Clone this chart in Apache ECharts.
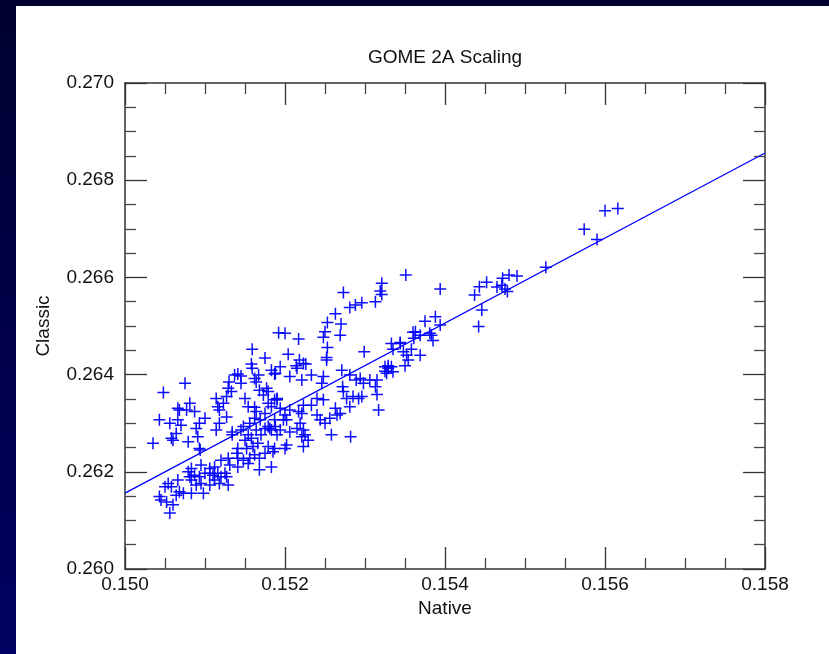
<!DOCTYPE html>
<html>
<head>
<meta charset="utf-8">
<script src="https://cdn.jsdelivr.net/npm/echarts@6/dist/echarts.min.js"></script>
<style>
  html, body { margin: 0; padding: 0; width: 829px; height: 654px; overflow: hidden;
    background: linear-gradient(to bottom, #00002e 0%, #00004a 50%, #000062 100%); }
  #chart { position: absolute; left: 16px; top: 6px; width: 813px; height: 648px; background: #ffffff; }
</style>
</head>
<body>
<div id="chart"></div>
<script>
// Scatter values: Native (x) and Classic (y)
const nativeX = [
  0.15616,0.15600,0.15574,0.15590,0.15526,0.15490,0.15480,0.15472,0.15471,0.15465,
  0.15475,0.15478,0.15452,0.15443,0.15437,0.15446,0.15442,0.15394,0.15375,0.15388,
  0.15394,0.15381,0.15369,0.15360,0.15383,0.15385,0.15344,0.15351,0.15321,0.15319,
  0.15321,0.15313,0.15273,0.15296,0.15288,0.15281,0.15263,0.15253,0.15270,0.15269,
  0.15250,0.15248,0.15253,0.15252,0.15252,0.15299,0.15217,0.15200,0.15192,0.15204,
  0.15218,0.15223,0.15226,0.15214,0.15194,0.15363,0.15361,0.15333,0.15344,0.15335,
  0.15348,0.15358,0.15352,0.15354,0.15369,0.15350,0.15329,0.15325,0.15329,0.15325,
  0.15294,0.15289,0.15298,0.15306,0.15315,0.15313,0.15281,0.15271,0.15272,0.15273,
  0.15277,0.15285,0.15292,0.15296,0.15281,0.15315,0.15317,0.15248,0.15246,0.15233,
  0.15221,0.15206,0.15188,0.15215,0.15248,0.15240,0.15233,0.15223,0.15217,0.15206,
  0.15240,0.15244,0.15250,0.15256,0.15263,0.15269,0.15265,0.15194,0.15200,0.15190,
  0.15183,0.15198,0.15188,0.15181,0.15194,0.15215,0.15223,0.15225,0.15229,0.15221,
  0.15223,0.15202,0.15200,0.15185,0.15183,0.15258,0.15282,0.15190,0.15206,0.15333,
  0.15335,0.15327,0.15159,0.15175,0.15158,0.15159,0.15183,0.15187,0.15141,0.15137,
  0.15145,0.15162,0.15167,0.15164,0.15130,0.15129,0.15145,0.15133,0.15127,0.15150,
  0.15114,0.15123,0.15116,0.15168,0.15177,0.15173,0.15179,0.15075,0.15048,0.15081,
  0.15066,0.15154,0.15162,0.15187,0.15068,0.15077,0.15087,0.15066,0.15070,0.15043,
  0.15056,0.15100,0.15093,0.15089,0.15091,0.15064,0.15058,0.15079,0.15035,0.15093,
  0.15118,0.15118,0.15114,0.15127,0.15134,0.15145,0.15141,0.15140,0.15150,0.15152,
  0.15158,0.15160,0.15166,0.15162,0.15156,0.15168,0.15175,0.15179,0.15187,0.15183,
  0.15175,0.15164,0.15141,0.15129,0.15120,0.15131,0.15148,0.15154,0.15168,0.15141,
  0.15112,0.15106,0.15095,0.15083,0.15079,0.15081,0.15087,0.15093,0.15100,0.15106,
  0.15110,0.15116,0.15112,0.15120,0.15125,0.15127,0.15095,0.15089,0.15106,0.15118,
  0.15129,0.15083,0.15054,0.15058,0.15050,0.15066,0.15068,0.15073,0.15083,0.15098,
  0.15064,0.15043,0.15045,0.15052,0.15060,0.15056,0.15179,0.15187,0.15170,0.15154,
  0.15162,0.15164,0.15134,0.15148,0.15156,0.15169,0.15175,0.15179,0.15190,0.15202,
  0.15219,0.15221,0.15060,0.15094
];
const classicY = [
  0.26742,0.26737,0.26699,0.26678,0.26621,0.26603,0.26605,0.26598,0.26584,0.26580,
  0.26576,0.26571,0.26590,0.26581,0.26564,0.26533,0.26499,0.26576,0.26510,0.26519,
  0.26502,0.26485,0.26481,0.26487,0.26481,0.26470,0.26466,0.26605,0.26588,0.26572,
  0.26565,0.26550,0.26569,0.26548,0.26543,0.26538,0.26525,0.26507,0.26504,0.26481,
  0.26488,0.26477,0.26456,0.26435,0.26430,0.26447,0.26473,0.26485,0.26486,0.26442,
  0.26430,0.26423,0.26422,0.26418,0.26416,0.26488,0.26475,0.26464,0.26464,0.26452,
  0.26447,0.26452,0.26440,0.26430,0.26440,0.26418,0.26418,0.26416,0.26413,0.26407,
  0.26392,0.26389,0.26382,0.26389,0.26389,0.26375,0.26399,0.26409,0.26375,0.26365,
  0.26351,0.26355,0.26351,0.26355,0.26334,0.26359,0.26327,0.26396,0.26382,0.26399,
  0.26389,0.26396,0.26403,0.26413,0.26348,0.26351,0.26337,0.26337,0.26324,0.26327,
  0.26317,0.26307,0.26300,0.26310,0.26331,0.26320,0.26317,0.26331,0.26317,0.26351,
  0.26334,0.26307,0.26293,0.26289,0.26286,0.26289,0.26286,0.26276,0.26265,0.26272,
  0.26252,0.26255,0.26248,0.26241,0.26210,0.26276,0.26272,0.26276,0.26282,0.26416,
  0.26406,0.26403,0.26452,0.26434,0.26422,0.26413,0.26409,0.26401,0.26401,0.26399,
  0.26397,0.26392,0.26399,0.26385,0.26385,0.26372,0.26382,0.26365,0.26355,0.26351,
  0.26351,0.26341,0.26334,0.26368,0.26372,0.26358,0.26365,0.26382,0.26363,0.26341,
  0.26331,0.26334,0.26333,0.26348,0.26327,0.26327,0.26324,0.26307,0.26296,0.26307,
  0.26300,0.26310,0.26300,0.26289,0.26272,0.26279,0.26269,0.26262,0.26259,0.26248,
  0.26327,0.26300,0.26286,0.26313,0.26276,0.26286,0.26248,0.26238,0.26265,0.26248,
  0.26269,0.26252,0.26259,0.26235,0.26228,0.26228,0.26238,0.26252,0.26248,0.26286,
  0.26289,0.26286,0.26228,0.26228,0.26224,0.26214,0.26224,0.26217,0.26204,0.26210,
  0.26210,0.26207,0.26214,0.26207,0.26200,0.26190,0.26193,0.26190,0.26197,0.26197,
  0.26193,0.26197,0.26183,0.26190,0.26197,0.26190,0.26176,0.26173,0.26173,0.26176,
  0.26173,0.26183,0.26176,0.26169,0.26169,0.26183,0.26159,0.26156,0.26156,0.26156,
  0.26152,0.26149,0.26142,0.26138,0.26132,0.26115,0.26293,0.26307,0.26276,0.26276,
  0.26310,0.26324,0.26282,0.26293,0.26300,0.26307,0.26320,0.26341,0.26348,0.26307,
  0.26300,0.26320,0.26265,0.26245
];
// Fitted line end points
const fitX = [0.150, 0.158];
const fitY = [0.26156, 0.26856];

const titleText = 'GOME 2A Scaling';
const xName = 'Native';
const yName = 'Classic';

const scatterData = nativeX.map((x, i) => [x, classicY[i]]);
const fitData = fitX.map((x, i) => [x, fitY[i]]);

const FONT = 'Liberation Sans';
const tickCommon = { show: true, inside: true, length: 22, lineStyle: { color: '#333', width: 1.3 } };
const minorCommon = { show: true, splitNumber: 4, length: 11, lineStyle: { color: '#444', width: 1.3 } };
const lineCommon = { show: true, lineStyle: { color: '#333', width: 1.5 } };
const labelCommon = { fontFamily: FONT, fontSize: 19, color: '#111' };

const chart = echarts.init(document.getElementById('chart'), null, { renderer: 'canvas' });
chart.setOption({
  animation: false,
  backgroundColor: '#ffffff',
  title: {
    text: titleText, left: 429, top: 42, padding: 0, textAlign: 'center',
    textStyle: { fontFamily: FONT, fontSize: 19, fontWeight: 'normal', color: '#111' }
  },
  grid: { left: 109, right: 64, top: 77, bottom: 85, containLabel: false },
  xAxis: [
    {
      type: 'value', position: 'bottom', min: 0.150, max: 0.158, interval: 0.002,
      name: xName, nameLocation: 'middle', nameGap: 25,
      nameTextStyle: labelCommon,
      axisLine: lineCommon, axisTick: tickCommon, minorTick: minorCommon,
      splitLine: { show: false }, minorSplitLine: { show: false },
      axisLabel: Object.assign({ margin: 6, formatter: v => v.toFixed(3) }, labelCommon)
    },
    {
      type: 'value', position: 'top', min: 0.150, max: 0.158, interval: 0.002,
      axisLine: lineCommon, axisTick: tickCommon, minorTick: minorCommon,
      splitLine: { show: false }, axisLabel: { show: false }
    }
  ],
  yAxis: [
    {
      type: 'value', position: 'left', min: 0.260, max: 0.270, interval: 0.002,
      name: yName, nameLocation: 'middle', nameGap: 72,
      nameTextStyle: labelCommon,
      axisLine: lineCommon, axisTick: tickCommon, minorTick: minorCommon,
      splitLine: { show: false }, minorSplitLine: { show: false },
      axisLabel: Object.assign({ margin: 11, formatter: v => v.toFixed(3) }, labelCommon)
    },
    {
      type: 'value', position: 'right', min: 0.260, max: 0.270, interval: 0.002,
      axisLine: lineCommon, axisTick: tickCommon, minorTick: minorCommon,
      splitLine: { show: false }, axisLabel: { show: false }
    }
  ],
  series: [
    {
      type: 'scatter', xAxisIndex: 0, yAxisIndex: 0,
      symbol: 'path://M0,5.25H12V6.75H0Z M5.25,0H6.75V12H5.25Z',
      symbolSize: 12,
      itemStyle: { color: '#0000ff', opacity: 0.95 },
      data: scatterData, z: 3
    },
    {
      type: 'line', xAxisIndex: 0, yAxisIndex: 0,
      showSymbol: false, symbol: 'none',
      lineStyle: { color: '#0000ff', width: 1.3 },
      data: fitData, z: 4
    }
  ]
});
</script>
</body>
</html>
